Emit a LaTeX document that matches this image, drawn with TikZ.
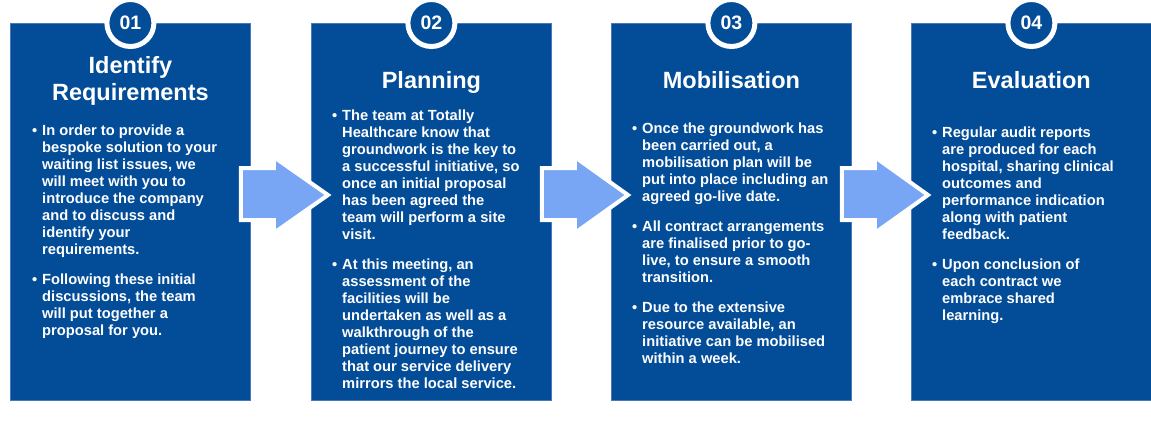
\documentclass[tikz,border=0pt]{standalone}
\usepackage{fontspec}
\setmainfont{Liberation Sans}
\definecolor{boxblue}{HTML}{024C98}
\definecolor{edgeblue}{HTML}{4A78BC}
\definecolor{arrowblue}{HTML}{78A6F5}
\newcommand{\blist}[1]{\begin{tabular}[t]{@{}l@{}l@{}}\makebox[10pt][l]{\textbullet}&#1\end{tabular}}
\newcommand{\ctitle}[1]{\begin{tabular}[t]{@{}c@{}}#1\end{tabular}}
\begin{document}
\begin{tikzpicture}[x=1pt,y=-1pt,
  stepbox/.style={fill=boxblue, draw=edgeblue, line width=0.8pt, minimum width=240pt, minimum height=377pt, anchor=north west, inner sep=0pt},
  flowarrow/.style={fill=arrowblue, draw=white, line width=4pt, line join=miter},
  numring/.style={circle, fill=boxblue, draw=white, line width=5pt, minimum size=47pt, inner sep=0pt, text=white, font=\fontsize{19.5}{23}\selectfont\bfseries},
  steptitle/.style={text=white, inner sep=0pt, anchor=base, font=\fontsize{23.5}{27}\selectfont\bfseries},
  body/.style={text=white, inner sep=0pt, anchor=base west, font=\fontsize{14.7}{17}\selectfont\bfseries}]
\fill[white] (0,0) rectangle (1151,421);
\useasboundingbox (0,0) rectangle (1151,421);
% boxes
\node[stepbox] (box1) at (10,23) {};
\node[stepbox] (box2) at (311,23) {};
\node[stepbox] (box3) at (611,23) {};
\node[stepbox] (box4) at (911,23) {};
% arrows
\foreach \a/\b in {box1/box2, box2/box3, box3/box4} {
  \draw[flowarrow] ([shift={(-10,145)}]\a.north east) -- ([shift={(23,145)}]\a.north east)
    -- ([shift={(23,134)}]\a.north east) -- ([shift={(17,172)}]\b.north west)
    -- ([shift={(23,210)}]\a.north east) -- ([shift={(23,197)}]\a.north east)
    -- ([shift={(-10,197)}]\a.north east) -- cycle;
}
% number circles
\node[numring] (n1) at (box1.north) {01};
\node[numring] (n2) at (box2.north) {02};
\node[numring] (n3) at (box3.north) {03};
\node[numring] (n4) at (box4.north) {04};
% titles
\node[steptitle] (t1) at ([yshift=-50pt]box1.north) {\ctitle{Identify\\Requirements}};
\node[steptitle] (t2) at ([yshift=-65pt]box2.north) {Planning};
\node[steptitle] (t3) at ([yshift=-65pt]box3.north) {Mobilisation};
\node[steptitle] (t4) at ([yshift=-65pt]box4.north) {Evaluation};
% box 1 text
\node[body] (b1a) at ([shift={(22,112)}]box1.north west) {\blist{In order to provide a\\&bespoke solution to your\\&waiting list issues, we\\&will meet with you to\\&introduce the company\\&and to discuss and\\&identify your\\&requirements.}};
\node[body] (b1b) at ([shift={(22,261)}]box1.north west) {\blist{Following these initial\\&discussions, the team\\&will put together a\\&proposal for you.}};
% box 2 text
\node[body] (b2a) at ([shift={(21,97)}]box2.north west) {\blist{The team at Totally\\&Healthcare know that\\&groundwork is the key to\\&a successful initiative, so\\&once an initial proposal\\&has been agreed the\\&team will perform a site\\&visit.}};
\node[body] (b2b) at ([shift={(21,246)}]box2.north west) {\blist{At this meeting, an\\&assessment of the\\&facilities will be\\&undertaken as well as a\\&walkthrough of the\\&patient journey to ensure\\&that our service delivery\\&mirrors the local service.}};
% box 3 text
\node[body] (b3a) at ([shift={(21,110)}]box3.north west) {\blist{Once the groundwork has\\&been carried out, a\\&mobilisation plan will be\\&put into place including an\\&agreed go-live date.}};
\node[body] (b3b) at ([shift={(21,208)}]box3.north west) {\blist{All contract arrangements\\&are finalised prior to go-\\&live, to ensure a smooth\\&transition.}};
\node[body] (b3c) at ([shift={(21,289)}]box3.north west) {\blist{Due to the extensive\\&resource available, an\\&initiative can be mobilised\\&within a week.}};
% box 4 text
\node[body] (b4a) at ([shift={(21,114)}]box4.north west) {\blist{Regular audit reports\\&are produced for each\\&hospital, sharing clinical\\&outcomes and\\&performance indication\\&along with patient\\&feedback.}};
\node[body] (b4b) at ([shift={(21,246)}]box4.north west) {\blist{Upon conclusion of\\&each contract we\\&embrace shared\\&learning.}};
\end{tikzpicture}
\end{document}
